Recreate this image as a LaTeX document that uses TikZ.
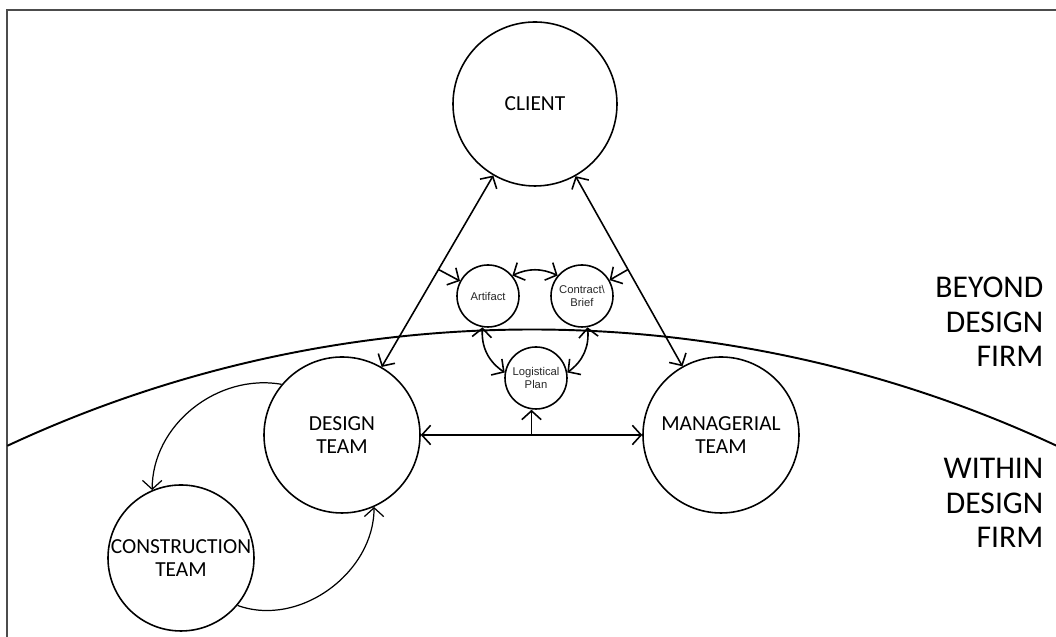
\documentclass[tikz,border=0pt]{standalone}
\usepackage{fontspec}
\setmainfont{Carlito}
\newfontfamily\smallfont{Liberation Sans}
\usetikzlibrary{arrows.meta, calc}

\begin{document}
\begin{tikzpicture}[
    line width=0.9pt,
    >={Straight Barb[length=5pt, width=11pt]},
    team/.style={draw, circle, inner sep=0pt, align=center, text=black,
      font=\fontsize{12.2}{13.2}\selectfont},
    item/.style={draw, circle, inner sep=0pt, minimum size=1.24cm, align=center,
      text=black!85, font=\smallfont\fontsize{6.4}{7.4}\selectfont},
    side/.style={align=right, anchor=east, text=black,
      font=\fontsize{18}{19.6}\selectfont}
  ]
  \useasboundingbox (0,0) rectangle (21.12,12.74);
  % frame, only top and left edges show
  \draw[black!70, line width=1.2pt] (21.12,12.54) -- (0.14,12.54) -- (0.14,0);

  % boundary of the firm
  \coordinate (ctr) at (10.64,-18.68);
  \draw[line width=1.1pt] ([shift={(115:24.83)}]ctr) arc[start angle=115, end angle=65, radius=24.83cm];

  \node[team, minimum size=3.28cm] (client) at (10.70,10.66) {CLIENT};
  \node[item] (artifact) at (9.76,6.82) {Artifact};
  \node[item] (brief) at (11.64,6.82) {Contract\textbackslash\\Brief};
  \node[item] (plan) at (10.72,5.18) {Logistical\\Plan};
  \node[team, minimum size=3.12cm] (design) at (6.84,4.04) {DESIGN\\TEAM};
  \node[team, minimum size=3.12cm] (managerial) at (14.42,4.04) {MANAGERIAL\\TEAM};
  \node[team, minimum size=2.92cm] (construction) at (3.62,1.58) {CONSTRUCTION\\TEAM};

  \node[side] (beyond) at (21.0,6.30) {BEYOND\\DESIGN\\FIRM};
  \node[side] (within) at (21.0,2.68) {WITHIN\\DESIGN\\FIRM};

  % client links
  \draw[<->] (client) -- (design);
  \draw[<->] (client) -- (managerial);
  \draw[->] ($(client)!0.5!(design)$) -- (artifact);
  \draw[->] ($(client)!0.5!(managerial)$) -- (brief);

  % documents
  \draw[<->] (artifact.40) to[bend left=25] (brief.140);
  \draw[<->] (artifact.260) to[bend right=30] (plan.170);
  \draw[<->] (brief.280) to[bend left=30] (plan.10);

  % within the firm
  \draw[<->] (design) -- (managerial);
  \coordinate (mid) at ($(design)!0.5!(managerial)$);
  \draw[->] (mid) -- (mid |- plan.south);
  \draw[->, line width=0.7pt] (design.140) to[out=170, in=90] (construction.113);
  \draw[->, line width=0.7pt] (construction.-40) to[out=-20, in=-90] (design.-66);
\end{tikzpicture}
\end{document}
